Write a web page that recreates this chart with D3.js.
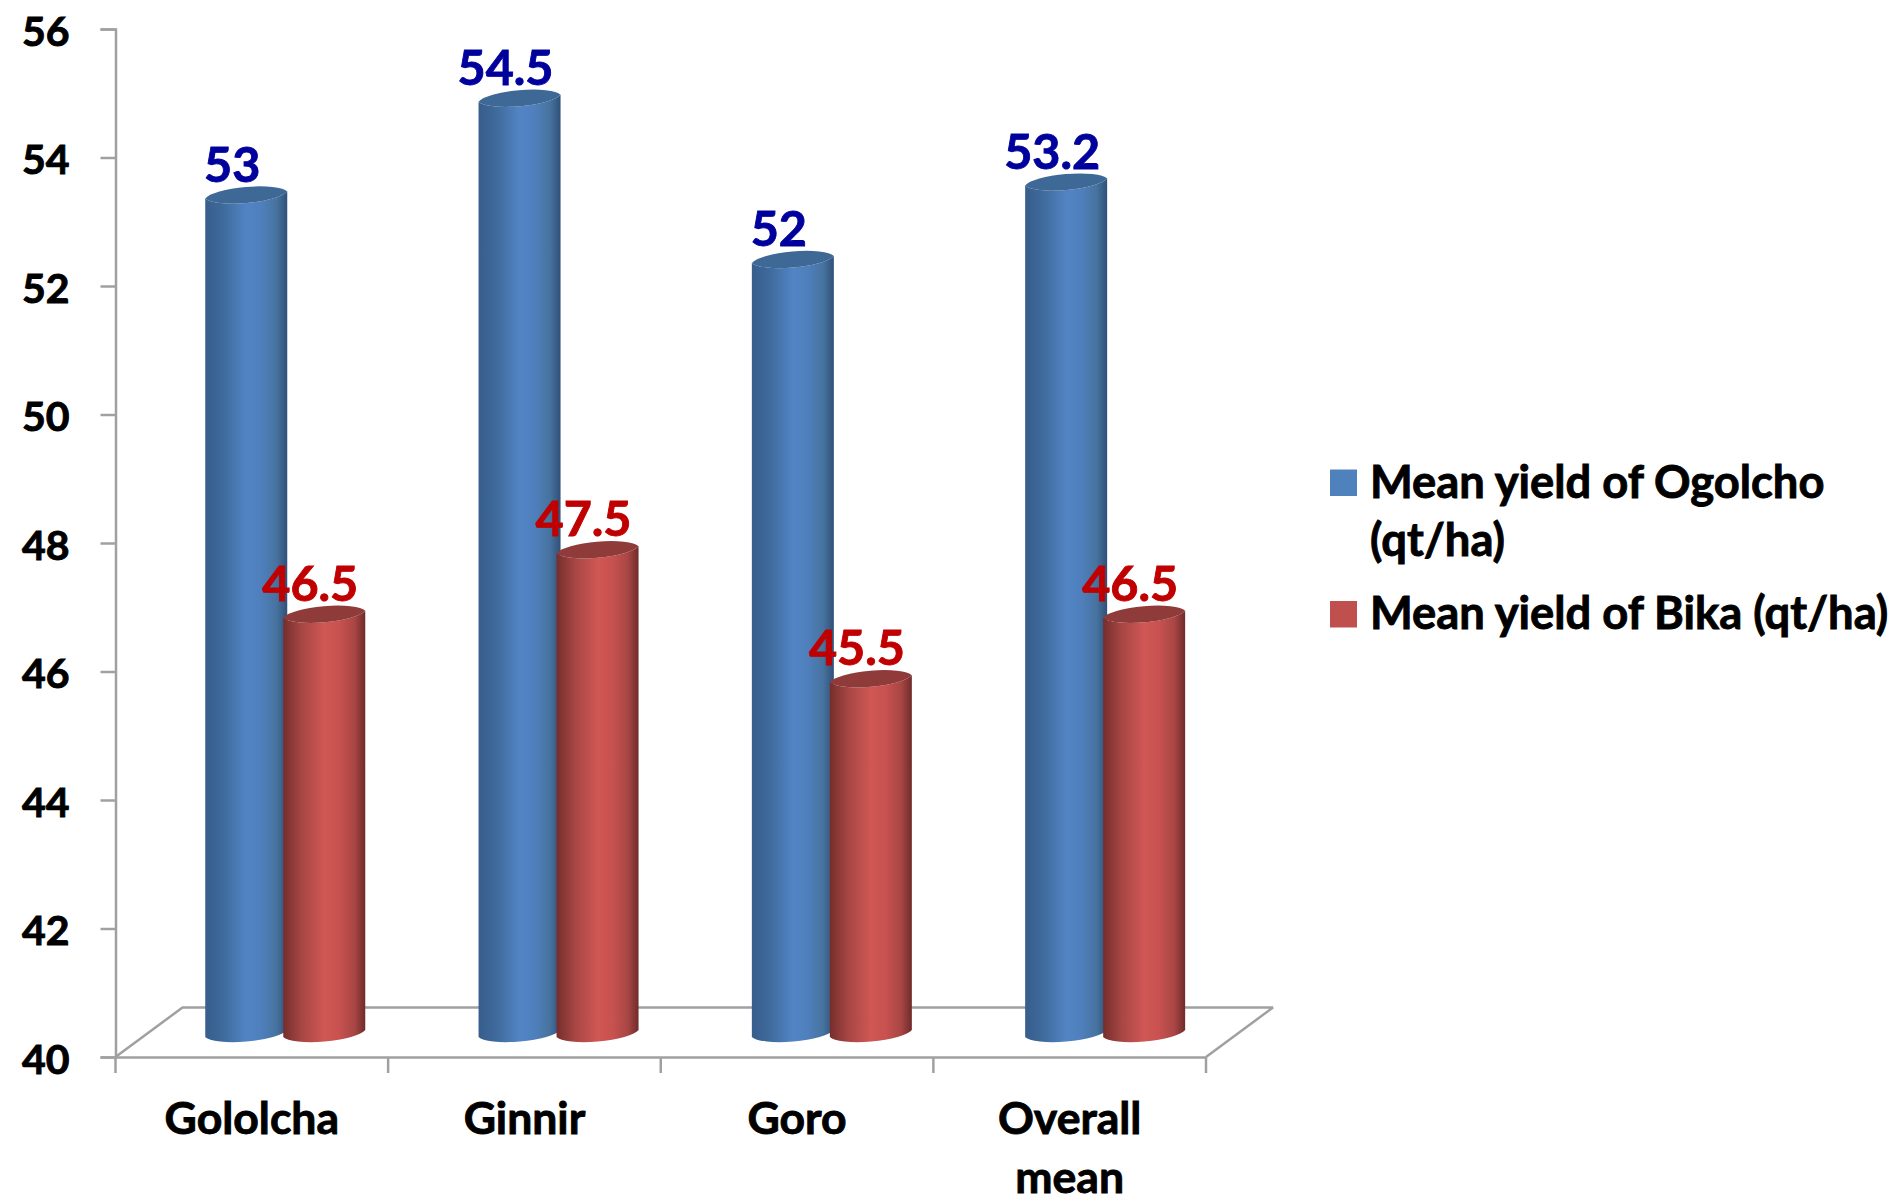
<!DOCTYPE html>
<html>
<head>
<meta charset="utf-8">
<script src="https://cdn.jsdelivr.net/npm/d3@7"></script>
<style>
  html, body { margin: 0; padding: 0; background: #fff; }
  svg { display: block; }
  text { font-family: Lato, "Open Sans", sans-serif; font-weight: 700; stroke-width: 0.9px; paint-order: stroke; }
</style>
</head>
<body>
<svg id="chart" width="1901" height="1198"></svg>
<script>
// Yield data by location
const categories = ["Gololcha", "Ginnir", "Goro", "Overall mean"];
const seriesNames = ["Mean yield of Ogolcho (qt/ha)", "Mean yield of Bika (qt/ha)"];
const ogolcho = [53, 54.5, 52, 53.2];
const bika = [46.5, 47.5, 45.5, 46.5];
const yTicks = [40, 42, 44, 46, 48, 50, 52, 54, 56];

const svg = d3.select("#chart");
const axisColor = "#a0a0a0";

// Scales: front edge of the floor carries the axes; cylinders stand further back
const y = d3.scaleLinear().domain([40, 56]).range([1057, 29]);
const yBars = d3.scaleLinear().domain([40, 56]).range([1033.5, 1033.5 - 16 * 64.5]);
const xFront = d3.scaleBand().domain(categories).range([115.5, 1206]);
const xBars = d3.scaleBand().domain(categories).range([148.6, 1241.8]);
const xSeries = d3.scaleBand().domain(seriesNames).range([0, 156]);

const barW = 82;
const ell = { rx: 42, ry: 10, rot: -5, tilt: 3.5 };

// Horizontal shading of the cylinder walls
const defs = svg.append("defs");
const shades = [
  { id: "wallBlue", stops: ["#375e8c", "#3f6a9c", "#5284c4", "#4f80bd", "#47739f", "#2f5079"] },
  { id: "wallRed",  stops: ["#752e2c", "#a64644", "#cf5754", "#c85250", "#a84644", "#6f2b2a"] }
];
const stopAt = [0, 0.22, 0.5, 0.68, 0.87, 1];
shades.forEach(s => {
  const g = defs.append("linearGradient").attr("id", s.id)
    .attr("x1", 0).attr("x2", 1).attr("y1", 0).attr("y2", 0);
  s.stops.forEach((c, i) => g.append("stop").attr("offset", stopAt[i]).attr("stop-color", c));
});

// Floor outline behind the bars
const floorDepth = { dx: 67, dy: -49.5 };
const floorLine = d3.line();
const [x0, x1] = xFront.range();
svg.append("path")
  .attr("d", floorLine([
    [x0, y(40)],
    [x0 + floorDepth.dx, y(40) + floorDepth.dy],
    [x1 + floorDepth.dx, y(40) + floorDepth.dy],
    [x1, y(40)]
  ]))
  .attr("fill", "none").attr("stroke", axisColor).attr("stroke-width", 2.5)
  .attr("stroke-linejoin", "bevel");

// Value axis
const yAxis = svg.append("g")
  .attr("transform", `translate(${x0},0)`)
  .call(d3.axisLeft(y).tickValues(yTicks).tickFormat(d3.format("d")).tickSize(15).tickPadding(31));
yAxis.select(".domain").attr("stroke", axisColor).attr("stroke-width", 2.5);
yAxis.selectAll(".tick line").attr("stroke", axisColor).attr("stroke-width", 2.5);
yAxis.selectAll(".tick text")
  .attr("font-size", 41).attr("fill", "#000").attr("stroke", "#000").attr("dy", "0.39em")
  .style("font-family", null);

// Category axis: labels centred in the band, tick marks on band edges
const xAxis = svg.append("g")
  .attr("transform", `translate(0,${y(40)})`)
  .call(d3.axisBottom(xFront).tickSize(0).tickPadding(0));
xAxis.select(".domain").attr("stroke", axisColor).attr("stroke-width", 2.5);
xAxis.selectAll(".tick text").each(function (d) {
  const t = d3.select(this).text(null).attr("font-size", 44.5).attr("fill", "#000").attr("stroke", "#000")
    .attr("y", 77).attr("dy", 0);
  const words = d.split(" ");
  words.forEach((w, i) => t.append("tspan").attr("x", 0).attr("dy", i ? 59 : 0).text(w));
});
const edges = categories.map(c => xFront(c)).concat([xFront.range()[1]]);
svg.append("g").selectAll("line").data(edges).join("line")
  .attr("x1", d => d).attr("x2", d => d)
  .attr("y1", y(40)).attr("y2", y(40) + 16)
  .attr("stroke", axisColor).attr("stroke-width", 2.5);

// Cylinder outline for a given centre and top/base levels
const arc = (sweep, dx, dy) =>
  `A${ell.rx},${ell.ry} ${ell.rot} 0 ${sweep} ${dx},${dy}`;
function wallPath(cx, top, base) {
  const l = cx - barW / 2, r = cx + barW / 2, t = ell.tilt;
  return `M${l},${top + t}L${l},${base + t}` + arc(0, r, base - t) +
         `L${r},${top - t}` + arc(1, l, top + t) + "Z";
}
function capPath(cx, top) {
  const l = cx - barW / 2, r = cx + barW / 2, t = ell.tilt;
  return `M${l},${top + t}` + arc(0, r, top - t) + arc(0, l, top + t) + "Z";
}

const series = [
  { name: seriesNames[0], values: ogolcho, wall: "url(#wallBlue)", cap: "#3e6895", label: "#00009c" },
  { name: seriesNames[1], values: bika, wall: "url(#wallRed)", cap: "#8f3b39", label: "#c00000" }
];

// Cylinders and their value labels, group by group
categories.forEach((c, i) => {
  const g = svg.append("g");
  series.forEach(s => {
    const v = s.values[i];
    const cx = xBars(c) + xBars.bandwidth() / 2 - 80 + xSeries(s.name) + barW / 2;
    const top = yBars(v), base = yBars(40);
    g.append("path").attr("d", wallPath(cx, top, base)).attr("fill", s.wall);
    g.append("path").attr("d", capPath(cx, top)).attr("fill", s.cap);
    g.append("text").attr("x", cx - 14).attr("y", top - 13.5)
      .attr("text-anchor", "middle").attr("font-size", 48.5)
      .attr("fill", s.label).attr("stroke", s.label)
      .text(d3.format("")(v));
  });
});

// Legend
const legendRows = [
  { color: "#4f81bd", lines: ["Mean yield of Ogolcho", "(qt/ha)"], base: 497.5 },
  { color: "#c0504d", lines: ["Mean yield of Bika (qt/ha)"], base: 629 }
];
const legend = svg.append("g");
legendRows.forEach(r => {
  legend.append("rect").attr("x", 1330).attr("y", r.base - 28)
    .attr("width", 27).attr("height", 26.5).attr("fill", r.color);
  r.lines.forEach((line, i) => legend.append("text")
    .attr("x", 1370).attr("y", r.base + i * 58.5)
    .attr("font-size", 45.3).attr("fill", "#000").attr("stroke", "#000").text(line));
});
</script>
</body>
</html>
